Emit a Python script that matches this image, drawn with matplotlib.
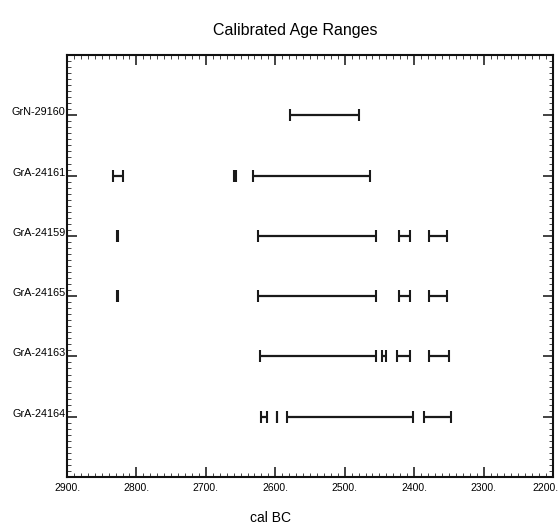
import matplotlib
matplotlib.use("Agg")
import matplotlib.pyplot as plt
from matplotlib.ticker import MultipleLocator, FuncFormatter
from matplotlib.transforms import ScaledTranslation

plt.rcParams['font.family'] = ['Liberation Sans', 'DejaVu Sans']

samples = ["GrN-29160", "GrA-24161", "GrA-24159", "GrA-24165", "GrA-24163", "GrA-24164"]
# calibrated ranges (cal BC), start -> end
grn_29160 = [(2579, 2480)]
gra_24161 = [(2834, 2819), (2659, 2656), (2632, 2463)]
gra_24159 = [(2828, 2827), (2625, 2455), (2422, 2406), (2379, 2353)]
gra_24165 = [(2828, 2827), (2625, 2455), (2422, 2406), (2379, 2353)]
gra_24163 = [(2622, 2455), (2447, 2441), (2424, 2406), (2379, 2350)]
gra_24164 = [(2621, 2612), (2598, 2597), (2583, 2401), (2386, 2347)]
all_ranges = [grn_29160, gra_24161, gra_24159, gra_24165, gra_24163, gra_24164]

xticks = [2900, 2800, 2700, 2600, 2500, 2400, 2300, 2200]

fig = plt.figure(figsize=(5.6, 5.26), dpi=100)
ax = fig.add_axes([67/560, 1-477/526, (553-67)/560, (477-55)/526])

for i, ranges in enumerate(all_ranges):
    y = i + 1
    for a, b in ranges:
        ax.plot([a, b], [y, y], color='#1a1a1a', lw=1.6, solid_capstyle='butt',
                marker='|', markersize=8, markeredgewidth=1.5)

ax.set_xlim(2900, 2200)
ax.set_ylim(7, 0)
ax.set_xticks(xticks)
ax.xaxis.set_minor_locator(MultipleLocator(10))
ax.xaxis.set_major_formatter(FuncFormatter(lambda v, p: f"{int(v)}."))
ax.set_yticks(range(1, len(samples) + 1))
ax.set_yticklabels(samples)
ax.yaxis.set_minor_locator(MultipleLocator(0.1))

ax.tick_params(axis='both', which='major', direction='in', top=True, right=True,
               length=7, width=1.2, color='#222222')
ax.tick_params(axis='both', which='minor', direction='in', top=True, right=True,
               length=3, width=0.7, color='#444444')
ax.tick_params(axis='x', which='major', labelsize=7.5, pad=4)
ax.tick_params(axis='y', which='major', labelsize=7.8, pad=1)
for lbl in ax.get_yticklabels():
    lbl.set_verticalalignment('baseline')
xlabels = ax.get_xticklabels()
xlabels[-1].set_horizontalalignment('right')
xlabels[-1].set_transform(xlabels[-1].get_transform() + ScaledTranslation(6/100, 0, fig.dpi_scale_trans))
for s in ax.spines.values():
    s.set_linewidth(1.5)
    s.set_color('#111111')

fig.text(295/560, 1-30/526, "Calibrated Age Ranges", ha='center', va='center', fontsize=11.5)
fig.text(271/560, 1-518/526, "cal BC", ha='center', va='center', fontsize=10)

fig.savefig("out.png", dpi=100)
